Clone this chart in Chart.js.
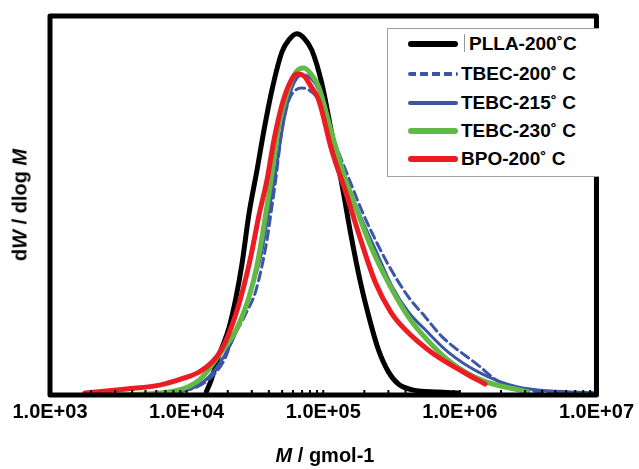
<!DOCTYPE html>
<html>
<head>
<meta charset="utf-8">
<script src="https://cdn.jsdelivr.net/npm/chart.js@4.4.1/dist/chart.umd.min.js"></script>
<style>
  body { margin: 0; background: #fff; }
  #wrap { position: relative; width: 639px; height: 469px; font-family: "Liberation Sans", Arial, sans-serif; font-weight: bold; color: #000; }
  #chart { position: absolute; left: 0; top: 0; }
  #legend { position: absolute; left: 387px; top: 28px; width: 211px; height: 147px; border: 1px solid #a0a0a0; border-right: none; background: #fff; }
  .row { position: absolute; left: 0; width: 211px; height: 24px; }
  .sample { position: absolute; left: 20px; width: 50px; top: 50%; }
  .lbl { position: absolute; left: 73px; top: 0; font-size: 19px; line-height: 24px; white-space: nowrap; }
  .ytitle { position: absolute; left: 20px; top: 205px; font-size: 20px; white-space: nowrap; transform: translate(-50%, -50%) rotate(-90deg); }
  .xtitle { position: absolute; left: 325px; top: 455px; font-size: 20px; white-space: nowrap; transform: translate(-50%, -50%); }
</style>
</head>
<body>
<div id="wrap">
  <canvas id="chart" width="639" height="469"></canvas>
  <div id="legend"></div>
  <div class="ytitle">d<i>W</i> / dlog <i>M</i></div>
  <div class="xtitle"><i>M</i> / gmol-1</div>
</div>
<script>
// tick labels on the molar mass axis
const xTicks = [1e3, 1e4, 1e5, 1e6, 1e7];

// PLLA-200C
const pllaM = [13930, 15150, 16750, 18220, 20490, 23040, 25480, 28660, 32780, 36860, 42150, 49850, 56060, 64120, 72100, 82470, 97520, 115300, 136400, 158600, 187600, 221900, 253800, 300100, 354900, 456500, 694200, 971000];
const pllaW = [0.008, 0.040, 0.092, 0.127, 0.179, 0.259, 0.348, 0.480, 0.594, 0.699, 0.805, 0.905, 0.937, 0.953, 0.942, 0.910, 0.823, 0.691, 0.559, 0.427, 0.296, 0.190, 0.119, 0.061, 0.029, 0.013, 0.008, 0.005];

// TBEC-200C (dashed)
const tbec200M = [7482, 13470, 18840, 21540, 27250, 32230, 38760, 41450, 45080, 49850, 56060, 63050, 69740, 78430, 92730, 123300, 153400, 190800, 241300, 300100, 419800, 558400, 730100, 1358000, 1900000, 3143000, 10000000];
const tbec200W = [0.005, 0.032, 0.092, 0.145, 0.216, 0.277, 0.409, 0.480, 0.573, 0.699, 0.778, 0.805, 0.810, 0.805, 0.778, 0.660, 0.573, 0.488, 0.409, 0.343, 0.259, 0.206, 0.156, 0.079, 0.037, 0.011, 0.005];

// TEBC-215C
const tebc215M = [3236, 7482, 13470, 18840, 24230, 29640, 35050, 40090, 45080, 51550, 58950, 69740, 81100, 92730, 115300, 145900, 181400, 241300, 315600, 419800, 558400, 821000, 1358000, 2657000, 10000000];
const tebc215W = [0.0, 0.005, 0.037, 0.103, 0.185, 0.277, 0.369, 0.488, 0.594, 0.726, 0.810, 0.844, 0.836, 0.805, 0.691, 0.573, 0.483, 0.383, 0.290, 0.219, 0.172, 0.113, 0.061, 0.021, 0.005];

// TEBC-230C
const tebc230M = [2735, 6333, 12390, 17320, 23040, 28660, 32780, 36860, 41450, 47410, 56060, 63050, 72100, 82470, 92730, 115300, 145900, 181400, 225600, 300100, 419800, 496400, 821000, 1428000, 3143000];
const tebc230W = [0.0, 0.005, 0.040, 0.106, 0.172, 0.259, 0.343, 0.449, 0.567, 0.712, 0.810, 0.852, 0.863, 0.844, 0.813, 0.691, 0.567, 0.475, 0.388, 0.296, 0.206, 0.172, 0.092, 0.040, 0.008];

// BPO-200C
const bpoM = [1799, 3645, 6333, 9630, 12390, 15400, 17920, 20490, 23430, 26350, 29640, 33890, 38760, 43590, 49850, 56060, 64120, 72100, 81100, 92730, 115300, 145900, 181400, 241300, 315600, 399100, 617300, 1092000, 1528000];
const bpoW = [0.005, 0.016, 0.026, 0.045, 0.061, 0.087, 0.119, 0.164, 0.224, 0.290, 0.369, 0.475, 0.567, 0.673, 0.765, 0.818, 0.847, 0.842, 0.815, 0.778, 0.646, 0.536, 0.427, 0.296, 0.216, 0.172, 0.113, 0.058, 0.029];

const minorMult = [2, 3, 4, 5, 6, 7, 8, 9];

function pts(ms, ws) {
  return ms.map((m, i) => ({ x: m, y: ws[i] }));
}

const series = [
  { label: 'PLLA-200\u02DAC', data: pts(pllaM, pllaW), color: '#000000', width: 5, dash: [], order: 4 },
  { label: 'TBEC-200\u02DA C', data: pts(tbec200M, tbec200W), color: '#3c55a8', width: 3, dash: [9, 5], order: 3 },
  { label: 'TEBC-215\u02DA C', data: pts(tebc215M, tebc215W), color: '#3c55a8', width: 3, dash: [], order: 2 },
  { label: 'TEBC-230\u02DA C', data: pts(tebc230M, tebc230W), color: '#63b946', width: 5, dash: [], order: 1 },
  { label: 'BPO-200\u02DA C', data: pts(bpoM, bpoW), color: '#ec1c24', width: 5, dash: [], order: 0 }
];

// frame + small inner ticks
const framePlugin = {
  id: 'frame',
  afterDatasetsDraw(chart) {
    const ctx = chart.ctx;
    const a = chart.chartArea;
    const xs = chart.scales.x;
    ctx.save();
    ctx.strokeStyle = '#000';
    ctx.lineWidth = 2;
    for (let e = 3; e < 7; e++) {
      minorMult.forEach(k => {
        const px = xs.getPixelForValue(k * Math.pow(10, e));
        ctx.beginPath();
        ctx.moveTo(px, a.bottom);
        ctx.lineTo(px, a.bottom - 5);
        ctx.stroke();
      });
    }
    xTicks.forEach(v => {
      const px = xs.getPixelForValue(v);
      ctx.beginPath();
      ctx.moveTo(px, a.bottom);
      ctx.lineTo(px, a.bottom - 5);
      ctx.stroke();
    });
    ctx.lineWidth = 5;
    ctx.lineJoin = 'round';
    ctx.strokeRect(a.left, a.top, a.right - a.left, a.bottom - a.top);
    ctx.restore();
  }
};

new Chart(document.getElementById('chart'), {
  type: 'line',
  data: {
    datasets: series.map(s => ({
      label: s.label,
      data: s.data,
      borderColor: s.color,
      borderWidth: s.width,
      borderDash: s.dash,
      borderCapStyle: 'round',
      borderJoinStyle: 'round',
      pointRadius: 0,
      cubicInterpolationMode: 'monotone',
      fill: false,
      order: s.order
    }))
  },
  options: {
    responsive: false,
    animation: false,
    layout: { padding: { left: 50, right: 40, top: 16, bottom: 0 } },
    plugins: { legend: { display: false }, tooltip: { enabled: false } },
    scales: {
      x: {
        type: 'logarithmic',
        min: 1e3,
        max: 1e7,
        afterBuildTicks: s => { s.ticks = xTicks.map(v => ({ value: v })); },
        afterFit: s => { s.height = 74; },
        grid: { display: false, drawTicks: false },
        border: { display: false },
        ticks: {
          autoSkip: false,
          maxRotation: 0,
          padding: 5,
          color: '#000',
          font: { family: '"Liberation Sans", Arial, sans-serif', size: 20, weight: 'bold' },
          callback: v => '1.0E+' + String(Math.round(Math.log10(v))).padStart(2, '0')
        }
      },
      y: {
        display: false,
        min: 0,
        max: 1
      }
    }
  },
  plugins: [framePlugin]
});

// legend
const legend = document.getElementById('legend');
const rowY = [15, 45, 74, 102, 130];
series.forEach((s, i) => {
  const row = document.createElement('div');
  row.className = 'row';
  row.style.top = (rowY[i] - 12) + 'px';
  const smp = document.createElement('div');
  smp.className = 'sample';
  const h = Math.max(3, s.width + 1);
  smp.style.height = h + 'px';
  smp.style.marginTop = (-h / 2) + 'px';
  smp.style.borderRadius = (h / 2) + 'px';
  if (s.dash.length) {
    smp.style.background = 'repeating-linear-gradient(90deg, ' + s.color + ' 0 8px, transparent 8px 12px)';
  } else {
    smp.style.background = s.color;
  }
  row.appendChild(smp);
  const lbl = document.createElement('div');
  lbl.className = 'lbl';
  lbl.textContent = s.label;
  if (i === 0) {
    lbl.style.left = '81px';
    const bar = document.createElement('div');
    bar.style.cssText = 'position:absolute;left:76px;top:2px;width:1px;height:18px;background:#999;';
    row.appendChild(bar);
  }
  row.appendChild(lbl);
  legend.appendChild(row);
});
</script>
</body>
</html>
